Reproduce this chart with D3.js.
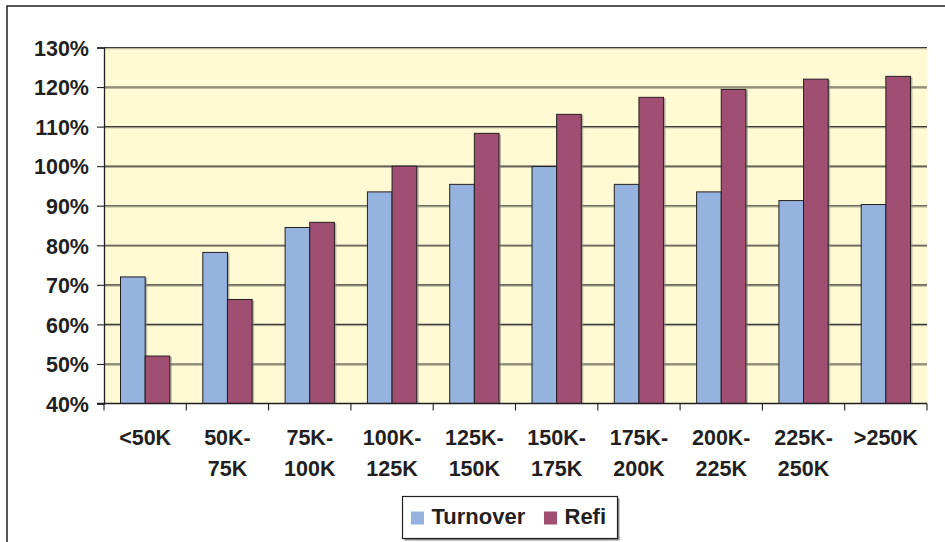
<!DOCTYPE html>
<html>
<head>
<meta charset="utf-8">
<script src="https://cdn.jsdelivr.net/npm/d3@7"></script>
<style>
  body { margin: 0; background: #fff; }
  text { font-family: "Liberation Sans", Arial, sans-serif; font-weight: bold; fill: #231f20; }
</style>
</head>
<body>
<div class="visholder"></div>
<script>
let width = 945,
    height = 542;

// chart data
const categories = ["<50K", "50K-75K", "75K-100K", "100K-125K", "125K-150K",
                    "150K-175K", "175K-200K", "200K-225K", "225K-250K", ">250K"];
const series = ["Turnover", "Refi"];
const turnover = [72, 78.2, 84.5, 93.5, 95.4, 99.9, 95.4, 93.5, 91.3, 90.3];
const refi = [52, 66.3, 85.8, 100, 108.3, 113.1, 117.4, 119.4, 122, 122.7];
const yTicks = [40, 50, 60, 70, 80, 90, 100, 110, 120, 130];

const colors = {Turnover: "#95b3de", Refi: "#a04f73"};

const plot = {left: 104, right: 927, top: 47.5, bottom: 403.5};

var svg = d3.select(".visholder")
    .append("svg")
    .attr("width", width)
    .attr("height", height);

// outer chart frame (runs off the page on right/bottom)
svg.append("rect")
    .attr("x", 7).attr("y", 6)
    .attr("width", 960).attr("height", 560)
    .attr("fill", "none")
    .attr("stroke", "#222")
    .attr("stroke-width", 1.5);

var x = d3.scaleBand()
    .domain(categories)
    .range([plot.left, plot.right])
    .padding(0);

var xSub = d3.scaleBand()
    .domain(series)
    .range([0, x.bandwidth()])
    .paddingInner(0)
    .paddingOuter(0.67);

var y = d3.scaleLinear()
    .domain([40, 130])
    .range([plot.bottom, plot.top]);

// plot background
svg.append("rect")
    .attr("x", plot.left).attr("y", plot.top)
    .attr("width", plot.right - plot.left)
    .attr("height", plot.bottom - plot.top)
    .attr("fill", "#fff9d4");

// gridlines with a soft shadow
var grid = svg.append("g").attr("class", "grid");
grid.selectAll(".gshadow")
    .data(yTicks.slice(1))
    .enter()
    .append("line")
    .attr("x1", plot.left).attr("x2", plot.right)
    .attr("y1", d => y(d) + 1.2).attr("y2", d => y(d) + 1.2)
    .attr("stroke", "#a9a48a").attr("stroke-width", 1);
grid.selectAll(".gline")
    .data(yTicks.slice(1))
    .enter()
    .append("line")
    .attr("x1", plot.left).attr("x2", plot.right)
    .attr("y1", d => y(d)).attr("y2", d => y(d))
    .attr("stroke", "#3a3a3a").attr("stroke-width", 1.1);

var rows = categories.map(function (c, i) {
    return {cat: c, values: [
        {key: "Turnover", value: turnover[i]},
        {key: "Refi", value: refi[i]}
    ]};
});

var groups = svg.selectAll(".group")
    .data(rows)
    .enter()
    .append("g")
    .attr("class", "group")
    .attr("transform", d => `translate(${x(d.cat)},0)`);

// bar shadows
groups.selectAll(".shadow")
    .data(d => d.values)
    .enter()
    .append("rect")
    .attr("x", d => xSub(d.key) + 2)
    .attr("y", d => y(d.value) + 1)
    .attr("width", xSub.bandwidth())
    .attr("height", d => plot.bottom - y(d.value) - 1)
    .attr("fill", "#8a8a80")
    .attr("opacity", 0.6);

groups.selectAll(".bar")
    .data(d => d.values)
    .enter()
    .append("rect")
    .attr("class", "bar")
    .attr("x", d => xSub(d.key))
    .attr("y", d => y(d.value))
    .attr("width", xSub.bandwidth())
    .attr("height", d => plot.bottom - y(d.value))
    .attr("fill", d => colors[d.key])
    .attr("stroke", "#231f20")
    .attr("stroke-width", 1);

// y axis
var yAxis = d3.axisLeft(y)
    .tickValues(yTicks)
    .tickSize(7)
    .tickPadding(8)
    .tickFormat(d => d + "%");

var yg = svg.append("g")
    .attr("transform", `translate(${plot.left},0)`)
    .call(yAxis);
yg.select(".domain").attr("stroke", "#231f20").attr("stroke-width", 1.3);
yg.selectAll(".tick line").attr("stroke", "#231f20").attr("stroke-width", 1.1);
yg.selectAll(".tick text")
    .style("font-size", "21.5px")
    .attr("dy", "0.36em");

// x axis: ticks on category boundaries
var xg = svg.append("g").attr("class", "x axis");
xg.append("line")
    .attr("x1", plot.left - 7).attr("x2", plot.right)
    .attr("y1", plot.bottom).attr("y2", plot.bottom)
    .attr("stroke", "#231f20").attr("stroke-width", 1.3);
xg.selectAll(".xtick")
    .data(categories.concat(["end"]))
    .enter()
    .append("line")
    .attr("x1", (d, i) => plot.left + i * x.step())
    .attr("x2", (d, i) => plot.left + i * x.step())
    .attr("y1", plot.bottom).attr("y2", plot.bottom + 7)
    .attr("stroke", "#231f20").attr("stroke-width", 1.1);

var labels = xg.selectAll(".xlabel")
    .data(categories)
    .enter()
    .append("text")
    .attr("class", "xlabel")
    .attr("text-anchor", "middle")
    .style("font-size", "21.5px")
    .attr("transform", d => `translate(${x(d) + x.bandwidth() / 2},445)`);

labels.each(function (d) {
    var parts = d.indexOf("-") > 0 ? [d.slice(0, d.indexOf("-") + 1), d.slice(d.indexOf("-") + 1)] : [d];
    d3.select(this).selectAll("tspan")
        .data(parts)
        .enter()
        .append("tspan")
        .attr("x", 0)
        .attr("y", (p, i) => i * 31)
        .text(p => p);
});

// legend
var legend = svg.append("g").attr("id", "legend");
legend.append("rect")
    .attr("x", 404.5).attr("y", 498.5)
    .attr("width", 215).attr("height", 42)
    .attr("fill", "#8a8a8a");
legend.append("rect")
    .attr("x", 402.5).attr("y", 496.5)
    .attr("width", 215).attr("height", 42)
    .attr("fill", "#fff")
    .attr("stroke", "#231f20")
    .attr("stroke-width", 1.2);

var legendX = [411, 544];
var items = legend.selectAll(".legend-item")
    .data(series)
    .enter()
    .append("g")
    .attr("class", "legend-item")
    .attr("transform", (d, i) => `translate(${legendX[i]},511.5)`);
items.append("rect")
    .attr("width", 13).attr("height", 13)
    .attr("fill", d => colors[d]);
items.append("text")
    .attr("x", 20.5)
    .attr("y", 12.5)
    .style("font-size", "22px")
    .text(d => d);
</script>
</body>
</html>
